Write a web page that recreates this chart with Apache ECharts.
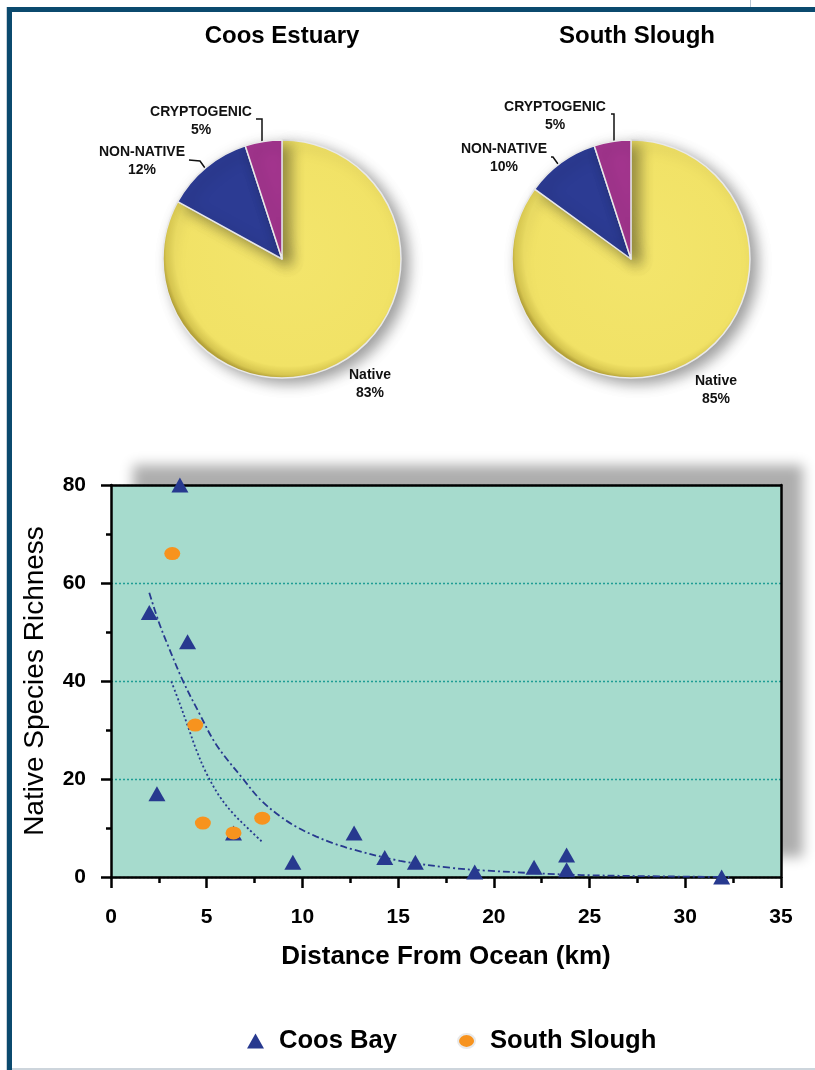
<!DOCTYPE html>
<html><head><meta charset="utf-8">
<script src="https://cdn.jsdelivr.net/npm/echarts/dist/echarts.min.js"></script>
<style>html,body{margin:0;padding:0;background:#fff}#c{width:815px;height:1070px}</style>
</head><body><div id="c"></div>
<script>
// ---- data ----
const pieCategories = ['Native', 'NON-NATIVE', 'CRYPTOGENIC'];
const coosEstuaryPct = [83, 12, 5];
const southSloughPct = [85, 10, 5];
const pieTitles = ['Coos Estuary', 'South Slough'];

const coosBayKm       = [3.6, 2.0, 4.0, 2.4, 6.4, 9.5, 12.7, 14.3, 15.9, 19.0, 22.1, 23.8, 23.8, 31.9];
const coosBayRichness = [80, 54, 48, 17, 9, 3, 9, 4, 3, 1, 2, 4.5, 1.5, 0];

const southSloughKm       = [3.2, 4.4, 4.8, 6.4, 7.9];
const southSloughRichness = [66, 31, 11, 9, 12];

const coosTrendKm       = [2.0, 2.5, 3.0, 3.76, 4.6, 5.5, 6.9, 7.8, 8.8, 9.7, 10.7, 11.6, 12.65, 15.1, 17.7, 19.6, 24.6, 32.3];
const coosTrendRichness = [58.0, 52.0, 47.0, 40.0, 33.5, 27.0, 20.0, 15.8, 12.5, 10.2, 8.3, 6.9, 5.6, 3.3, 1.9, 1.3, 0.4, 0.0];

const sloughTrendKm       = [3.15, 3.59, 4.02, 4.46, 4.98, 5.68, 6.37, 7.16, 7.89];
const sloughTrendRichness = [39.9, 35.4, 30.7, 25.9, 21.2, 16.4, 13.0, 9.9, 7.2];

const seriesNames = ['Coos Bay', 'South Slough'];
const xAxisTitle = 'Distance From Ocean (km)';
const yAxisTitle = 'Native Species Richness';

// ---- styling ----
const FONT = '"Liberation Sans", Arial, Helvetica, sans-serif';
const YELLOW = {type: 'radial', x: 0.53, y: 0.47, r: 0.53, colorStops: [
  {offset: 0, color: '#f3e56c'}, {offset: 0.9, color: '#f1e266'},
  {offset: 0.97, color: '#dccb52'}, {offset: 1, color: '#bba83c'}]};
const pieColors = [YELLOW, '#2c3b93', '#a3358e'];
const BLUE = '#27398f';
const ORANGE = '#f7931e';
const ELLIPSE = 'path://M0,6.5A8,6.5 0 1,0 16,6.5A8,6.5 0 1,0 0,6.5Z';

// label placement for pies (annotation layout)
const pieLabelPlaces = [
  [ // Coos Estuary
    {x: 370, y: 384},
    {x: 142, y: 161, line: [[189, 160], [200, 161], [205, 168]]},
    {x: 201, y: 121, line: [[256, 119], [262, 119], [262, 142]]}
  ],
  [ // South Slough
    {x: 716, y: 390},
    {x: 504, y: 158, line: [[551, 157], [553, 157], [558, 164]]},
    {x: 555, y: 116, line: [[611, 114], [614, 114], [614, 142]]}
  ]
];

function pieData(vals) {
  return pieCategories.map((n, i) => ({
    name: n, value: vals[i],
    itemStyle: {color: pieColors[i]},
    labelLine: {show: i !== 0}
  }));
}
function pieSeries(idx, vals, cx) {
  return {
    type: 'pie', name: pieTitles[idx], center: [cx, 259], radius: 119,
    startAngle: 90, clockwise: true, avoidLabelOverlap: false, animation: false,
    data: pieData(vals),
    itemStyle: {borderColor: '#e9e9e9', borderWidth: 1.5,
      shadowBlur: 14, shadowOffsetX: 7, shadowOffsetY: 5, shadowColor: 'rgba(0,0,0,0.38)'},
    label: {show: true, position: 'outside', fontFamily: FONT, fontWeight: 'bold', fontSize: 14,
      lineHeight: 18, color: '#111', align: 'center',
      formatter: p => p.name + '\n' + p.value + '%'},
    labelLine: {show: true, length: 5, length2: 5, lineStyle: {color: '#111', width: 1.5}},
    labelLayout: function (p) {
      const pl = pieLabelPlaces[idx][p.dataIndex];
      const o = {x: pl.x, y: pl.y, align: 'center', verticalAlign: 'middle'};
      if (pl.line) o.labelLinePoints = pl.line;
      return o;
    },
    emphasis: {disabled: true}
  };
}

const chart = echarts.init(document.getElementById('c'), null, {renderer: 'canvas'});
const axisBlack = {lineStyle: {color: '#000', width: 2.5}};
const option = {
  animation: false,
  backgroundColor: '#ffffff',
  textStyle: {fontFamily: FONT},
  title: [
    {text: pieTitles[0], left: 282, top: 24, textAlign: 'center', padding: 0,
     textStyle: {fontFamily: FONT, fontWeight: 'bold', fontSize: 24, color: '#000'}},
    {text: pieTitles[1], left: 637, top: 24, textAlign: 'center', padding: 0,
     textStyle: {fontFamily: FONT, fontWeight: 'bold', fontSize: 24, color: '#000'}}
  ],
  graphic: [
    {type: 'rect', shape: {x: 6, y: 7, width: 1, height: 1063}, style: {fill: '#c9d2da'}, z: 0, silent: true},
    {type: 'rect', shape: {x: 7, y: 7, width: 808, height: 5}, style: {fill: '#0b4a6e'}, z: 0, silent: true},
    {type: 'rect', shape: {x: 7, y: 7, width: 5, height: 1063}, style: {fill: '#0b4a6e'}, z: 0, silent: true},
    {type: 'rect', shape: {x: 750, y: 0, width: 1, height: 7}, style: {fill: '#b8c6d4'}, z: 0, silent: true},
    {type: 'rect', shape: {x: 12, y: 1068, width: 803, height: 2}, style: {fill: '#cdd5dc'}, z: 0, silent: true}
  ],
  legend: {
    left: 247, top: 1028, padding: 0, itemGap: 60, itemWidth: 17, itemHeight: 15,
    data: [
      {name: seriesNames[0], icon: 'triangle', itemStyle: {color: BLUE}},
      {name: seriesNames[1], icon: ELLIPSE, itemStyle: {color: ORANGE}}
    ],
    textStyle: {fontFamily: FONT, fontWeight: 'bold', fontSize: 25.6, color: '#000', padding: [0, 0, 0, 10]},
    selectedMode: false
  },
  grid: {
    left: 111, top: 485, width: 670, height: 392, containLabel: false, outerBoundsMode: 'none',
    show: true, backgroundColor: '#a6dbcd', borderWidth: 0,
    shadowColor: 'rgba(0,0,0,0.32)', shadowBlur: 12, shadowOffsetX: 22, shadowOffsetY: -20
  },
  xAxis: [
    {type: 'value', position: 'bottom', min: 0, max: 35, interval: 5,
     name: xAxisTitle, nameLocation: 'middle', nameGap: 67,
     nameTextStyle: {fontFamily: FONT, fontWeight: 'bold', fontSize: 26, color: '#000'},
     axisLine: {show: true, onZero: false, ...axisBlack},
     axisTick: {show: true, length: 11, lineStyle: {color: '#000', width: 2.5}},
     minorTick: {show: true, splitNumber: 2, length: 6, lineStyle: {color: '#000', width: 2.5}},
     axisLabel: {margin: 30, fontFamily: FONT, fontWeight: 'bold', fontSize: 21, color: '#000'},
     splitLine: {show: false}, minorSplitLine: {show: false}},
    {type: 'value', position: 'top', min: 0, max: 35, interval: 5,
     axisLine: {show: true, onZero: false, ...axisBlack}, axisTick: {show: false},
     axisLabel: {show: false}, splitLine: {show: false}}
  ],
  yAxis: [
    {type: 'value', position: 'left', min: 0, max: 80, interval: 20,
     name: yAxisTitle, nameLocation: 'middle', nameGap: 62, nameRotate: 90,
     nameTextStyle: {fontFamily: FONT, fontWeight: 'normal', fontSize: 28, color: '#000'},
     axisLine: {show: true, onZero: false, ...axisBlack},
     axisTick: {show: true, length: 10, lineStyle: {color: '#000', width: 2.5}},
     minorTick: {show: true, splitNumber: 2, length: 5, lineStyle: {color: '#000', width: 2.5}},
     axisLabel: {margin: 25, fontFamily: FONT, fontWeight: 'bold', fontSize: 21, color: '#000'},
     splitLine: {show: true, lineStyle: {type: [2, 2], color: '#1f9d95', width: 1.3}},
     minorSplitLine: {show: false}},
    {type: 'value', position: 'right', min: 0, max: 80, interval: 20,
     axisLine: {show: true, onZero: false, ...axisBlack}, axisTick: {show: false},
     axisLabel: {show: false}, splitLine: {show: false}}
  ],
  series: [
    pieSeries(0, coosEstuaryPct, 282),
    pieSeries(1, southSloughPct, 631),
    {type: 'line', name: 'Coos Bay trend', xAxisIndex: 0, yAxisIndex: 0, smooth: 0.35,
     showSymbol: false, symbol: 'none', z: 3,
     data: coosTrendKm.map((x, i) => [x, coosTrendRichness[i]]),
     lineStyle: {color: BLUE, width: 1.8, type: [7, 3, 2, 3]}, emphasis: {disabled: true}},
    {type: 'line', name: 'South Slough trend', xAxisIndex: 0, yAxisIndex: 0, smooth: 0.35,
     showSymbol: false, symbol: 'none', z: 3,
     data: sloughTrendKm.map((x, i) => [x, sloughTrendRichness[i]]),
     lineStyle: {color: BLUE, width: 1.8, type: [2, 2.5]}, emphasis: {disabled: true}},
    {type: 'scatter', name: seriesNames[0], xAxisIndex: 0, yAxisIndex: 0, z: 4,
     symbol: 'triangle', symbolSize: [17, 15],
     itemStyle: {color: BLUE, opacity: 1},
     data: coosBayKm.map((x, i) => [x, coosBayRichness[i]]), emphasis: {disabled: true}},
    {type: 'scatter', name: seriesNames[1], xAxisIndex: 0, yAxisIndex: 0, z: 5,
     symbol: ELLIPSE, symbolSize: [16, 13],
     itemStyle: {color: ORANGE, opacity: 1},
     data: southSloughKm.map((x, i) => [x, southSloughRichness[i]]), emphasis: {disabled: true}}
  ]
};
chart.setOption(option);
</script></body></html>
